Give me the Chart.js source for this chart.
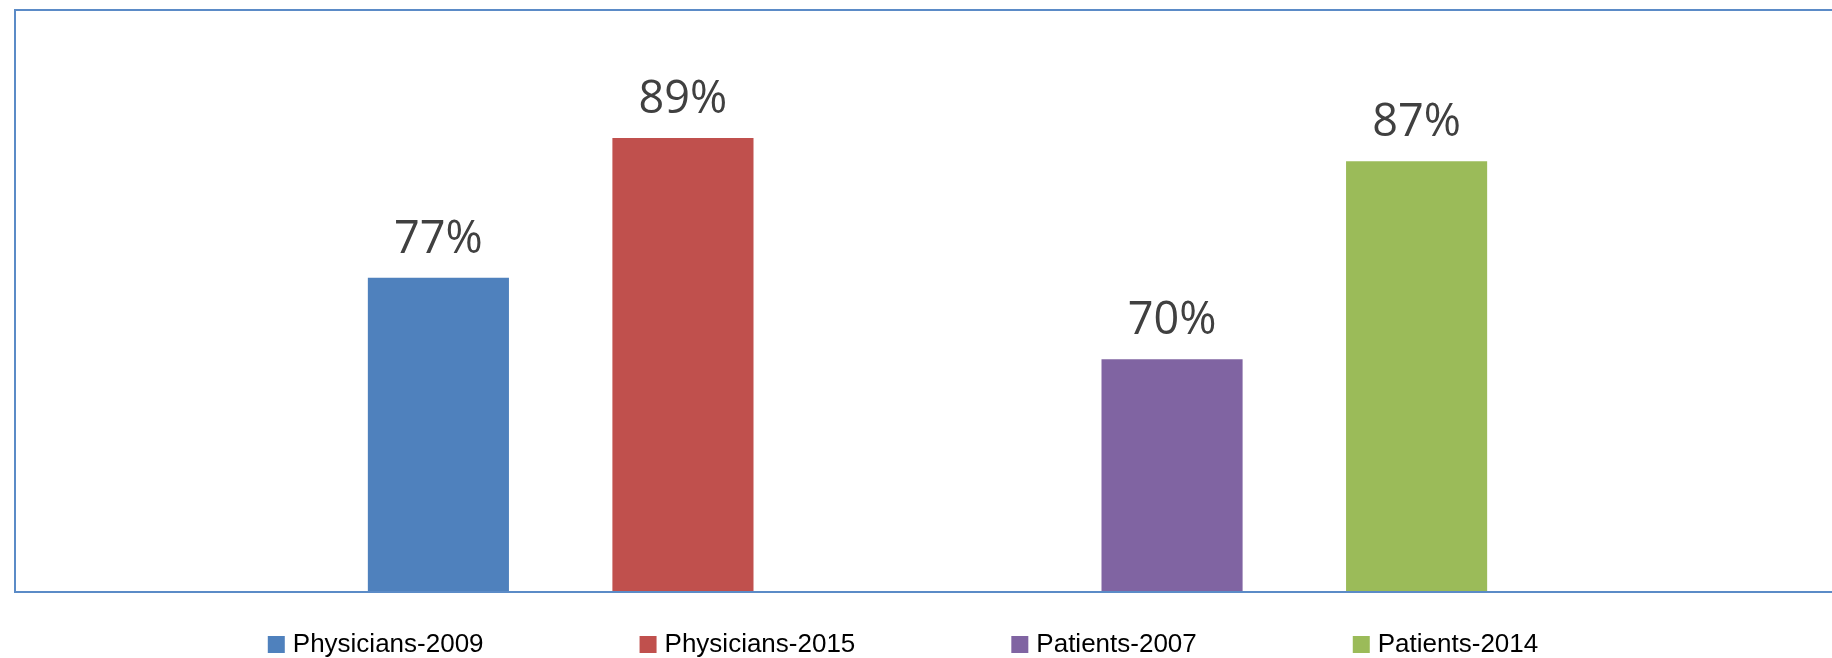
<!DOCTYPE html>
<html>
<head>
<meta charset="utf-8">
<script src="https://cdn.jsdelivr.net/npm/chart.js@4/dist/chart.umd.min.js"></script>
<style>
  html, body { margin: 0; padding: 0; background: #fff; overflow: hidden; }
  #wrap { width: 1850px; height: 658px; }
</style>
</head>
<body>
<div id="wrap"><canvas id="surveyChart" width="1850" height="658"></canvas></div>
<script>
// one group of bars, with an empty slot between physicians and patients
const categories = [''];
const seriesNames = ['Physicians-2009', 'Physicians-2015', '', 'Patients-2007', 'Patients-2014'];
const seriesValues = [77, 89, null, 70, 87];
const seriesColors = ['#4F81BD', '#C0504D', 'rgba(0,0,0,0)', '#8064A2', '#9BBB59'];
const yMin = 50;
const yMax = 100;

const datasets = seriesNames.map((name, i) => ({
  label: name,
  data: [seriesValues[i]],
  backgroundColor: seriesColors[i],
  borderWidth: 0,
  barPercentage: 0.577,
  categoryPercentage: 0.67,
}));

// frame round the plot area (left, top, bottom)
const framePlugin = {
  id: 'frame',
  afterDraw(chart) {
    const { ctx, chartArea } = chart;
    ctx.save();
    ctx.strokeStyle = '#5B8BC7';
    ctx.lineWidth = 2;
    ctx.strokeRect(chartArea.left, chartArea.top, chartArea.right - chartArea.left, chartArea.bottom - chartArea.top);
    ctx.restore();
  },
};

// value labels above each bar
const valueLabels = {
  id: 'valueLabels',
  afterDatasetsDraw(chart) {
    const { ctx } = chart;
    ctx.save();
    ctx.font = '45px "Open Sans"';
    ctx.fillStyle = '#404040';
    ctx.textAlign = 'center';
    ctx.textBaseline = 'alphabetic';
    chart.data.datasets.forEach((ds, i) => {
      const meta = chart.getDatasetMeta(i);
      meta.data.forEach((bar, j) => {
        const v = ds.data[j];
        if (v === null || v === undefined) return;
        ctx.fillText(v + '%', bar.x, bar.y - 25);
      });
    });
    ctx.restore();
  },
};

// legend along the bottom, Excel style
const bottomLegend = {
  id: 'bottomLegend',
  afterDraw(chart) {
    const { ctx } = chart;
    const box = 17, gapText = 8, gapItem = 156, centerX = 903, boxTop = 636;
    ctx.save();
    ctx.font = '26px "Liberation Sans", sans-serif';
    const items = chart.data.datasets.filter((ds) => ds.label !== '');
    const widths = items.map((ds) => box + gapText + ctx.measureText(ds.label).width);
    const total = widths.reduce((a, b) => a + b, 0) + gapItem * (items.length - 1);
    let x = centerX - total / 2;
    items.forEach((ds, i) => {
      ctx.fillStyle = ds.backgroundColor;
      ctx.fillRect(x, boxTop, box, box);
      ctx.fillStyle = '#000';
      ctx.textBaseline = 'alphabetic';
      ctx.fillText(ds.label, x + box + gapText, 652);
      x += widths[i] + gapItem;
    });
    ctx.restore();
  },
};

new Chart(document.getElementById('surveyChart'), {
  type: 'bar',
  data: { labels: categories, datasets },
  options: {
    responsive: false,
    animation: false,
    layout: { padding: { left: 15, top: 10, right: 10, bottom: 66 } },
    plugins: {
      legend: { display: false },
      tooltip: { enabled: false },
    },
    scales: {
      x: { display: false },
      y: { display: false, min: yMin, max: yMax },
    },
  },
  plugins: [framePlugin, valueLabels, bottomLegend],
});
</script>
</body>
</html>
